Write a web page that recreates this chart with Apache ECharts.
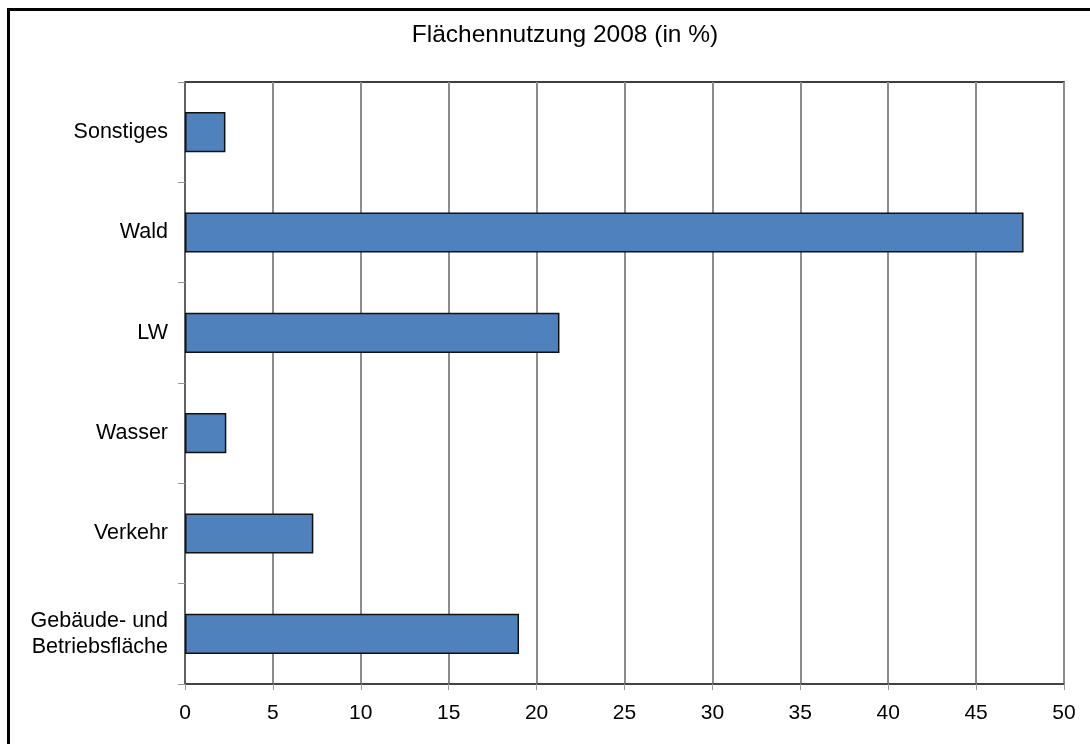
<!DOCTYPE html>
<html>
<head>
<meta charset="utf-8">
<script src="https://cdn.jsdelivr.net/npm/echarts@6/dist/echarts.min.js"></script>
<style>
html,body{margin:0;padding:0;background:#fff;}
#frame{position:absolute;left:7px;top:8px;width:1200px;height:900px;border-left:3px solid #000;border-top:3px solid #000;box-sizing:border-box;}
#chart{position:absolute;left:0;top:0;width:1090px;height:744px;}
</style>
</head>
<body>
<div id="frame"></div>
<div id="chart"></div>
<script>
const titleText = 'Flächennutzung 2008 (in %)';
const categories = ['Gebäude- und\nBetriebsfläche', 'Verkehr', 'Wasser', 'LW', 'Wald', 'Sonstiges'];
const values = [19.0, 7.3, 2.35, 21.3, 47.7, 2.3];
const xMin = 0, xMax = 50, xStep = 5;

const FONT = 'Liberation Sans, Arial, sans-serif';
const chart = echarts.init(document.getElementById('chart'), null, {renderer: 'canvas'});
chart.setOption({
  animation: false,
  backgroundColor: 'transparent',
  title: {
    text: titleText,
    left: 560, top: 18,
    textAlign: 'center',
    textStyle: {fontFamily: FONT, fontSize: 24.5, fontWeight: 'normal', color: '#000'}
  },
  grid: {
    left: 185, right: 26, top: 82, bottom: 60,
    show: true, borderColor: '#000', borderWidth: 1.5, backgroundColor: 'transparent',
    containLabel: false
  },
  xAxis: {
    type: 'value', min: xMin, max: xMax, interval: xStep,
    axisLine: {show: true, lineStyle: {color: '#444', width: 1.5}},
    axisTick: {show: true, length: 6, lineStyle: {color: '#999', width: 1}},
    axisLabel: {fontFamily: FONT, fontSize: 21, color: '#000', margin: 19},
    splitLine: {show: true, lineStyle: {color: '#8c8c8c', width: 2}}
  },
  yAxis: {
    type: 'category', data: categories,
    axisLine: {show: true, lineStyle: {color: '#555', width: 1.5}},
    axisTick: {show: true, length: 7, lineStyle: {color: '#999', width: 1}},
    axisLabel: {fontFamily: FONT, fontSize: 21.5, color: '#000', margin: 17, lineHeight: 26},
    splitLine: {show: false}
  },
  series: [{
    type: 'bar', data: values,
    barCategoryGap: '60%',
    itemStyle: {color: '#4f81bd', borderColor: '#111', borderWidth: 1.5}
  }]
});
</script>
</body>
</html>
